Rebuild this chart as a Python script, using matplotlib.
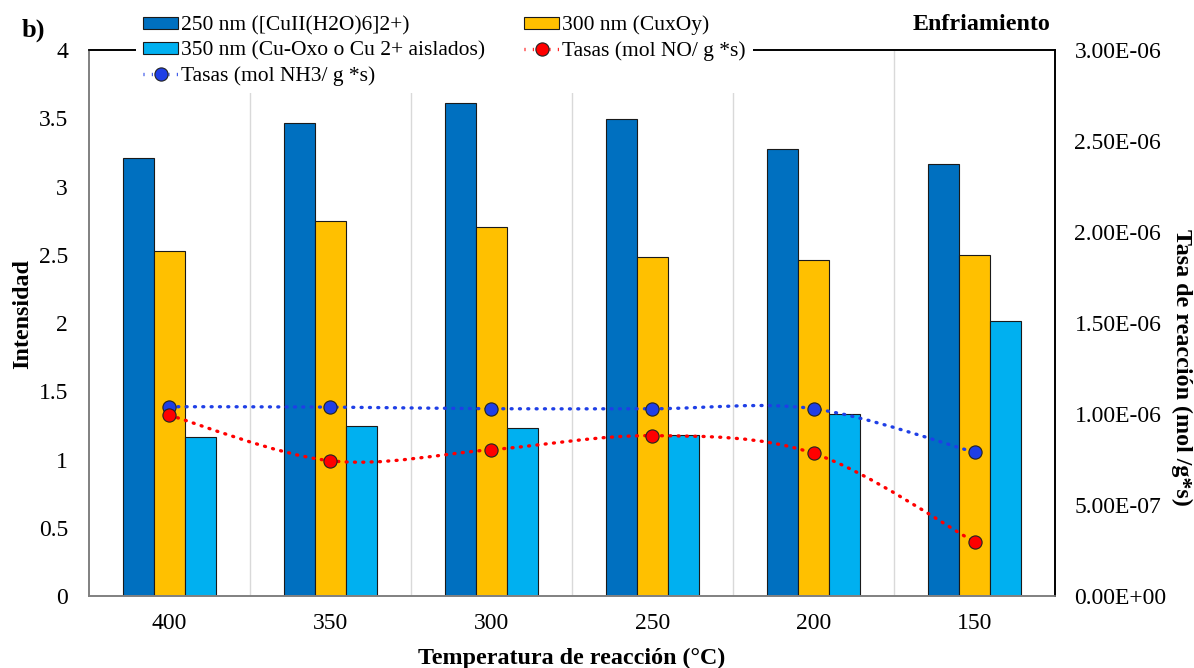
import numpy as np
import matplotlib.pyplot as plt
from matplotlib.path import Path
from matplotlib.patches import PathPatch
from matplotlib.lines import Line2D
from matplotlib.ticker import FuncFormatter

plt.rcParams['font.family'] = ['Liberation Serif', 'DejaVu Serif']

# Data
temps = ['400', '350', '300', '250', '200', '150']
b250 = [3.21, 3.465, 3.61, 3.495, 3.275, 3.165]
b300 = [2.525, 2.745, 2.70, 2.485, 2.46, 2.495]
b350 = [1.163, 1.242, 1.232, 1.182, 1.333, 2.015]
rate_no = [0.993e-6, 0.743e-6, 0.804e-6, 0.881e-6, 0.784e-6, 0.297e-6]
rate_nh3 = [1.040e-6, 1.038e-6, 1.029e-6, 1.029e-6, 1.029e-6, 0.790e-6]

lbl250 = '250 nm ([CuII(H2O)6]2+)'
lbl300 = '300 nm (CuxOy)'
lbl350 = '350 nm (Cu-Oxo o Cu 2+ aislados)'
lbl_no = 'Tasas (mol NO/ g *s)'
lbl_nh3 = 'Tasas (mol NH3/ g *s)'


def smooth_path(xs, ys):
    # Excel-like smoothed line as cubic bezier through the points
    pts = np.column_stack([xs, ys]).astype(float)
    n = len(pts)
    verts = [pts[0]]
    codes = [Path.MOVETO]
    for i in range(n - 1):
        p0 = pts[max(i - 1, 0)]
        p1 = pts[i]
        p2 = pts[i + 1]
        p3 = pts[min(i + 2, n - 1)]
        verts += [p1 + (p2 - p0) / 6, p2 - (p3 - p1) / 6, p2]
        codes += [Path.CURVE4] * 3
    return Path(verts, codes)


fig = plt.figure(figsize=(11.94, 6.68), dpi=100)
ax = fig.add_axes([0.0745, 0.1078, 0.8091, 0.8173])
ax2 = ax.twinx()

x = np.arange(len(temps))
w = 0.193
ax.bar(x - w, b250, w, color='#0070C0', edgecolor='#1a1a1a', linewidth=0.8, label=lbl250)
ax.bar(x, b300, w, color='#FFC000', edgecolor='#1a1a1a', linewidth=0.8, label=lbl300)
ax.bar(x + w, b350, w, color='#00B0F0', edgecolor='#1a1a1a', linewidth=0.8, label=lbl350)

ax.set_xlim(-0.5, 5.5)
ax.set_ylim(0, 4)
ax.set_yticks(np.arange(0, 4.01, 0.5))
ax.yaxis.set_major_formatter(FuncFormatter(lambda v, p: f'{v:g}'))
ax.set_xticks(x)
ax.set_xticklabels(temps)
ax.tick_params(axis='both', length=0, labelsize=17)
ax.tick_params(axis='y', pad=15)
ax.tick_params(axis='x', pad=12)
for xv in x[:-1] + 0.5:
    ax.axvline(xv, color='#D9D9D9', linewidth=1, zorder=0)
ax.set_axisbelow(True)

ax2.set_ylim(0, 3e-6)
ax2.set_yticks(np.arange(0, 3.01e-6, 0.5e-6))
ax2.yaxis.set_major_formatter(FuncFormatter(lambda v, p: f'{v:.2E}'))
ax2.tick_params(axis='y', length=0, labelsize=17, pad=14)

for a in (ax, ax2):
    a.spines['left'].set_color('#808080')
    a.spines['bottom'].set_color('#808080')
    a.spines['top'].set_color('black')
    a.spines['right'].set_color('black')
    for s in a.spines.values():
        s.set_linewidth(1.2)

dots = (0, (0.3, 2.2))
for vals, col in ((rate_nh3, '#1F3FE6'), (rate_no, '#FF0000')):
    pp = PathPatch(smooth_path(x, vals), facecolor='none', edgecolor=col,
                   linewidth=2.4, linestyle=dots, capstyle='round',
                   transform=ax2.transData, zorder=3)
    ax2.add_patch(pp)
ax2.plot(x, rate_nh3, ls='none', marker='o', ms=9.5, mfc='#1F3FE6', mec='#222222', mew=0.8, zorder=4)
ax2.plot(x, rate_no, ls='none', marker='o', ms=9.5, mfc='#FF0000', mec='#222222', mew=0.8, zorder=5)

ax.set_ylabel('Intensidad', fontsize=17.3, fontweight='bold')
ax.yaxis.set_label_coords(-0.058, 0.516)
ax2.set_ylabel('Tasa de reacción (mol /g*s)', fontsize=17.3, fontweight='bold', rotation=270)
ax2.yaxis.set_label_coords(1.142, 0.419)
ax.set_xlabel('Temperatura de reacción (°C)', fontsize=17.3, fontweight='bold')
ax.xaxis.set_label_coords(0.5, -0.095)

h = ax.get_legend_handles_labels()[0]
h_no = Line2D([], [], color='#FF0000', lw=2.4, ls=dots, marker='o', ms=9.5,
              mfc='#FF0000', mec='#222222', mew=0.8)
h_nh3 = Line2D([], [], color='#1F3FE6', lw=2.4, ls=dots, marker='o', ms=9.5,
               mfc='#1F3FE6', mec='#222222', mew=0.8)
fig.legend([h[0], h[2], h_nh3, h[1], h_no], [lbl250, lbl350, lbl_nh3, lbl300, lbl_no],
           ncol=2, loc='upper left', bbox_to_anchor=(0.1135, 0.988), frameon=True,
           facecolor='white', edgecolor='none', framealpha=1, fontsize=15.5,
           handlelength=1.63, handleheight=0.47, handletextpad=0.14,
           columnspacing=1.8, labelspacing=0.27, borderaxespad=0, borderpad=0.35)

fig.text(0.0185, 0.955, 'b)', fontsize=19, fontweight='bold', va='center')
fig.text(0.8802, 0.963, 'Enfriamiento', fontsize=17.3, fontweight='bold', ha='right', va='center')

fig.savefig('out.png', dpi=100)
